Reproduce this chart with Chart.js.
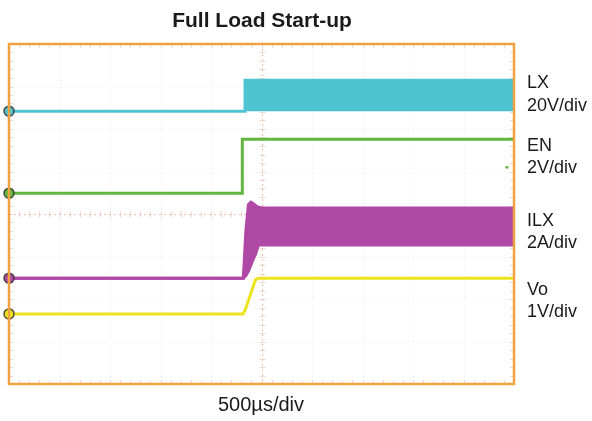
<!DOCTYPE html>
<html><head><meta charset="utf-8">
<script src="https://cdn.jsdelivr.net/npm/chart.js@4"></script>
<style>html,body{margin:0;padding:0;background:#fff}#c{display:block}</style>
</head><body><canvas id="c" width="592" height="421"></canvas>
<script>
// ---- data (time in µs, 10 div × 500 µs; levels in screen divisions 0..8) ----
const chartTitle = 'Full Load Start-up';
const xAxisLabel = '500µs/div';
const channelNames = ['LX', 'EN', 'ILX', 'Vo'];
const channelScales = ['20V/div', '2V/div', '2A/div', '1V/div'];
const timeMin = 0, timeMax = 5000, divMin = 0, divMax = 8;

const lxT = [0, 2337, 2337, 5000];
const lxY = [6.42, 6.42, 7.15, 7.15];
const lxBase = 6.42;

const enT = [0, 2307, 2310, 5000];
const enY = [4.49, 4.49, 5.76, 5.76];
const enMarkT = [4930];
const enMarkY = [5.1];

const ilxT =    [0,    2320, 2345, 2370, 2395, 2420, 2440, 2470, 2505, 5000];
const ilxTopY = [2.49, 2.49, 3.6,  4.22, 4.28, 4.24, 4.2,  4.16, 4.14, 4.14];
const ilxBotY = [2.49, 2.49, 2.55, 2.65, 2.8,  2.95, 3.05, 3.27, 3.27, 3.27];

const voT = [0, 2317, 2340, 2440, 2470, 5000];
const voY = [1.65, 1.65, 1.75, 2.45, 2.49, 2.49];

// ---- styles ----
const cLX = 'rgb(78,196,211)', cEN = 'rgb(98,182,64)', cILX = 'rgb(176,72,166)', cVO = 'rgb(238,228,30)';
const frameColor = 'rgb(240,162,66)';
const zip = (t, y) => t.map((v, i) => ({x: v, y: y[i]}));
const marker = ctx => ctx.dataIndex === 0 ? 5 : 0;

const gridPlugin = {
  id: 'scope',
  beforeDatasetsDraw(chart) {
    const {ctx, chartArea: a, scales: {x, y}} = chart;
    ctx.save();
    // faint dotted grid
    ctx.strokeStyle = 'rgba(205,195,185,0.35)';
    ctx.lineWidth = 1;
    ctx.setLineDash([1, 3]);
    for (let i = 1; i < 10; i++) {
      if (i === 5) continue;
      const px = Math.round(x.getPixelForValue(timeMin + i * 500)) + 0.5;
      ctx.beginPath(); ctx.moveTo(px, a.top); ctx.lineTo(px, a.bottom); ctx.stroke();
    }
    for (let j = 1; j < 8; j++) {
      if (j === 4) continue;
      const py = Math.round(y.getPixelForValue(j)) + 0.5;
      ctx.beginPath(); ctx.moveTo(a.left, py); ctx.lineTo(a.right, py); ctx.stroke();
    }
    // center lines
    ctx.strokeStyle = 'rgba(232,170,140,0.7)';
    ctx.setLineDash([2, 3]);
    const cx = Math.round(x.getPixelForValue(2500)) + 0.5;
    const cy = Math.round(y.getPixelForValue(4)) + 0.5;
    ctx.beginPath(); ctx.moveTo(cx, a.top); ctx.lineTo(cx, a.bottom); ctx.stroke();
    ctx.beginPath(); ctx.moveTo(a.left, cy); ctx.lineTo(a.right, cy); ctx.stroke();
    ctx.setLineDash([]);
    // minor ticks
    ctx.strokeStyle = 'rgba(225,180,160,0.5)';
    for (let k = 1; k < 50; k++) {
      const px = Math.round(x.getPixelForValue(timeMin + k * 100)) + 0.5;
      ctx.beginPath();
      ctx.moveTo(px, cy - 3); ctx.lineTo(px, cy + 3);
      ctx.moveTo(px, a.top); ctx.lineTo(px, a.top + 4);
      ctx.moveTo(px, a.bottom); ctx.lineTo(px, a.bottom - 4);
      ctx.stroke();
    }
    for (let k = 1; k < 40; k++) {
      const py = Math.round(y.getPixelForValue(k * 0.2)) + 0.5;
      ctx.beginPath();
      ctx.moveTo(cx - 3, py); ctx.lineTo(cx + 3, py);
      ctx.moveTo(a.left, py); ctx.lineTo(a.left + 4, py);
      ctx.moveTo(a.right, py); ctx.lineTo(a.right - 4, py);
      ctx.stroke();
    }
    ctx.restore();
  },
  afterDraw(chart) {
    const {ctx, chartArea: a} = chart;
    ctx.save();
    ctx.strokeStyle = frameColor;
    ctx.lineWidth = 2.5;
    ctx.strokeRect(a.left, a.top, a.right - a.left, a.bottom - a.top);
    ctx.fillStyle = '#1a1a1a';
    ctx.textAlign = 'center';
    ctx.textBaseline = 'middle';
    ctx.font = 'bold 21px "Liberation Sans", Arial, sans-serif';
    ctx.fillText(chartTitle, 262, 21);
    ctx.font = '20px "Liberation Sans", Arial, sans-serif';
    ctx.fillText(xAxisLabel, 261, 405);
    ctx.textAlign = 'left';
    ctx.font = '18px "Liberation Sans", Arial, sans-serif';
    const nameY = [83, 106, 146, 168, 221, 243, 290, 312];
    const lines = [];
    for (let i = 0; i < channelNames.length; i++) { lines.push(channelNames[i], channelScales[i]); }
    lines.forEach((t, i) => ctx.fillText(t, 527, nameY[i]));
    ctx.restore();
  }
};

const common = {showLine: true, tension: 0, borderWidth: 3, clip: false,
  pointRadius: marker, pointHoverRadius: 0, pointBorderColor: 'rgba(40,40,40,0.8)', pointBorderWidth: 1.5};

new Chart(document.getElementById('c'), {
  type: 'line',
  data: {
    datasets: [
      {...common, label: 'LX', data: zip(lxT, lxY), borderColor: cLX, backgroundColor: cLX, pointBackgroundColor: cLX,
        fill: {value: lxBase}},
      {...common, label: 'EN', data: zip(enT, enY), borderColor: cEN, backgroundColor: cEN, pointBackgroundColor: cEN, fill: false},
      {...common, label: 'EN trig', data: zip(enMarkT, enMarkY), borderColor: cEN, backgroundColor: cEN,
        pointRadius: 1.5, pointBorderWidth: 0, pointBackgroundColor: cEN, fill: false},
      {...common, label: 'ILX', data: zip(ilxT, ilxTopY), borderColor: cILX, backgroundColor: cILX, pointBackgroundColor: cILX, fill: false},
      {...common, label: 'ILX min', data: zip(ilxT, ilxBotY), borderColor: cILX, backgroundColor: cILX, pointRadius: 0, fill: '-1'},
      {...common, label: 'Vo', data: zip(voT, voY), borderColor: cVO, backgroundColor: cVO, pointBackgroundColor: cVO, fill: false}
    ]
  },
  options: {
    responsive: false,
    animation: false,
    layout: {padding: {left: 9, right: 78, top: 44, bottom: 37}},
    plugins: {legend: {display: false}, tooltip: {enabled: false}, title: {display: false}},
    scales: {
      x: {type: 'linear', min: timeMin, max: timeMax, display: false},
      y: {type: 'linear', min: divMin, max: divMax, display: false}
    }
  },
  plugins: [gridPlugin]
});
</script>
</body></html>
